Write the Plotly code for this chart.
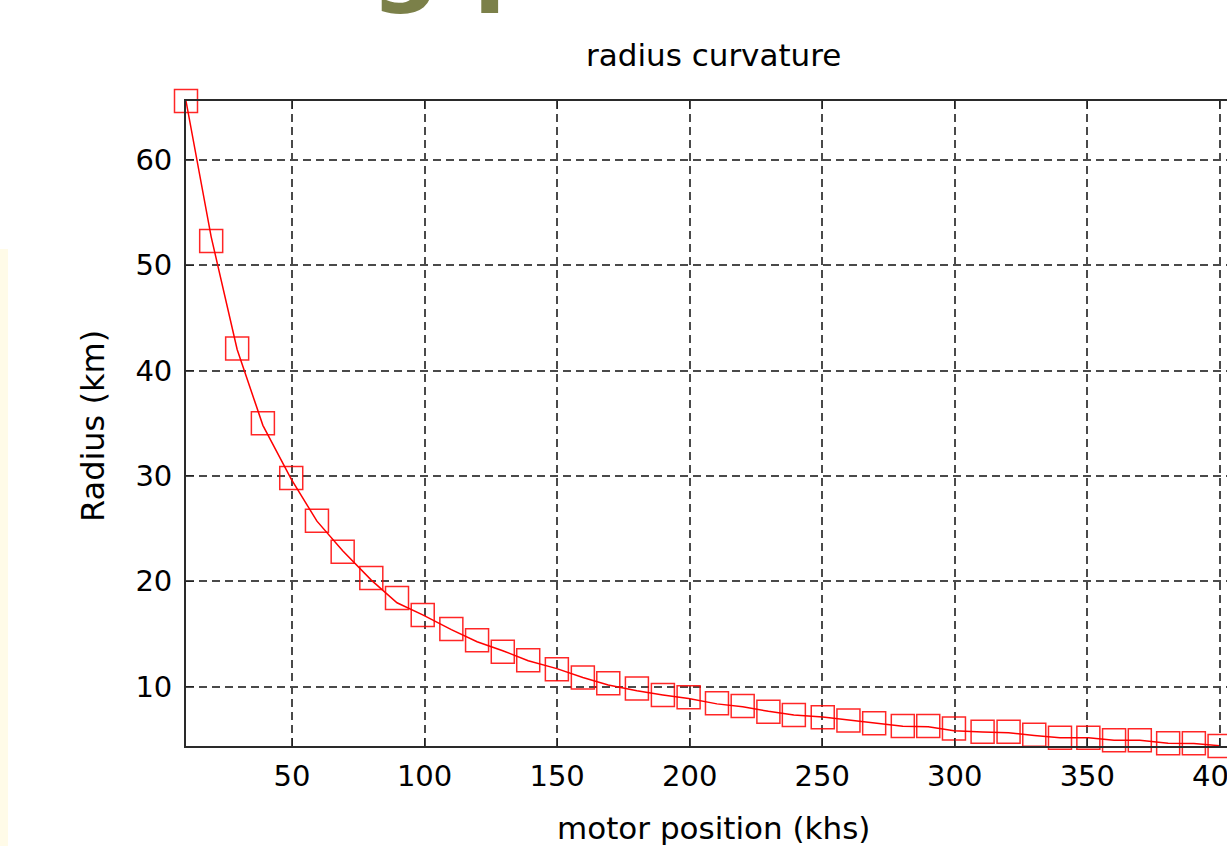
import plotly.graph_objects as go

# ---- data ----
motor_position = [10, 19.5, 29.3, 39.0, 49.7, 59.4, 69.1, 79.9, 89.6, 99.3,
                  110.1, 119.8, 129.5, 139.1, 149.9, 159.7, 169.3, 180.1, 189.9, 199.6,
                  210.3, 220.0, 229.7, 239.3, 250.2, 259.9, 269.6, 280.4, 290.0, 299.7,
                  310.5, 320.3, 330.0, 339.7, 350.4, 360.1, 369.8, 380.5, 390.2, 399.9]
radius_measured = [65.6, 52.3, 42.1, 35.0, 29.8, 25.75, 22.8, 20.3, 18.4, 16.8,
                   15.45, 14.4, 13.3, 12.5, 11.65, 10.85, 10.3, 9.8, 9.2, 8.98,
                   8.4, 8.15, 7.6, 7.3, 7.08, 6.77, 6.52, 6.25, 6.25, 6.0,
                   5.71, 5.71, 5.43, 5.14, 5.14, 4.9, 4.9, 4.61, 4.61, 4.35]
radius_fit = [65.6, 52.7, 42.0, 34.8, 29.7, 25.7, 22.9, 20.1, 17.95, 16.8,
              15.4, 14.25, 13.4, 12.45, 11.7, 10.85, 10.15, 9.6, 9.2, 8.85,
              8.35, 8.07, 7.65, 7.3, 7.1, 6.8, 6.5, 6.22, 6.18, 5.8,
              5.68, 5.6, 5.35, 5.13, 5.13, 4.9, 4.9, 4.6, 4.58, 4.38]
x_ticks = [50, 100, 150, 200, 250, 300, 350, 400]
y_ticks = [10, 20, 30, 40, 50, 60]

title_text = "radius curvature"
x_title = "motor position (khs)"
y_title = "Radius (km)"
heading_fragment = "g p"

W, H = 1227, 846
L, R, T, B = 186, 0, 101, 100
PW, PH = W - L - R, H - T - B

def px_x(p):
    return (p - L) / PW

def px_y(p):
    return 1 - (p - T) / PH

FONT = "DejaVu Sans"
TICKFONT = dict(family=FONT, size=29, color="black")

fig = go.Figure()
fig.add_trace(go.Scatter(
    x=motor_position, y=radius_fit, mode="lines",
    line=dict(color="#ff0000", width=1.5), cliponaxis=False, showlegend=False))
fig.add_trace(go.Scatter(
    x=motor_position, y=radius_measured, mode="markers",
    marker=dict(symbol="square-open", size=23, color="rgba(255,0,0,0.85)",
                line=dict(width=1.5, color="rgba(255,0,0,0.85)")),
    cliponaxis=False, showlegend=False))

axis_common = dict(
    showgrid=True, gridcolor="#4a4a4a", gridwidth=1.5, griddash="8px,5px",
    zeroline=False, showline=True, linecolor="#2a2a2a", linewidth=1.8,
    ticks="inside", ticklen=8, tickwidth=1.3, tickcolor="#222222",
    tickfont=TICKFONT, automargin=False,
)

# x tick labels: the last one (at the clipped right edge) is drawn separately below
x_ticktext = [str(v) for v in x_ticks[:-1]] + [""]
fig.update_xaxes(range=[10, 402.7], tickvals=x_ticks, ticktext=x_ticktext,
                 mirror="ticks", ticklabelstandoff=3, **axis_common)
fig.update_yaxes(range=[4.35, 65.6], tickvals=y_ticks, mirror=False,
                 ticklabelstandoff=6, **axis_common)

fig.update_layout(
    width=W, height=H, autosize=False,
    margin=dict(l=L, r=R, t=T, b=B, pad=0, autoexpand=False),
    paper_bgcolor="white", plot_bgcolor="white",
    showlegend=False,
)

# last x tick label, partly cut off by the right edge as in the source
fig.add_annotation(text=str(x_ticks[-1]), xref="x", yref="paper",
                   x=x_ticks[-1], y=px_y(776), xanchor="center", yanchor="middle",
                   showarrow=False, font=TICKFONT)

# pale yellow strip at left edge of slide
fig.add_shape(type="rect", xref="paper", yref="paper",
              x0=px_x(0), x1=px_x(8), y0=px_y(H), y1=px_y(249),
              fillcolor="#fffbe8", line=dict(width=0), layer="below")

fig.add_annotation(text=title_text, xref="paper", yref="paper",
                   x=px_x(713), y=px_y(55), xanchor="center", yanchor="middle",
                   showarrow=False, font=dict(family=FONT, size=31, color="black"))
fig.add_annotation(text=x_title, xref="paper", yref="paper",
                   x=px_x(713), y=px_y(828), xanchor="center", yanchor="middle",
                   showarrow=False, font=dict(family=FONT, size=31, color="black"))
fig.add_annotation(text=y_title, xref="paper", yref="paper", textangle=-90,
                   x=px_x(93), y=px_y(426), xanchor="center", yanchor="middle",
                   showarrow=False, font=dict(family=FONT, size=32, color="black"))
fig.add_annotation(text="<b>" + heading_fragment + "</b>", xref="paper", yref="paper",
                   x=px_x(370), y=px_y(17), xanchor="left", yanchor="bottom",
                   borderpad=0, showarrow=False,
                   font=dict(family=FONT, size=96, color="#7b8049"))

fig.write_html("out.html")
